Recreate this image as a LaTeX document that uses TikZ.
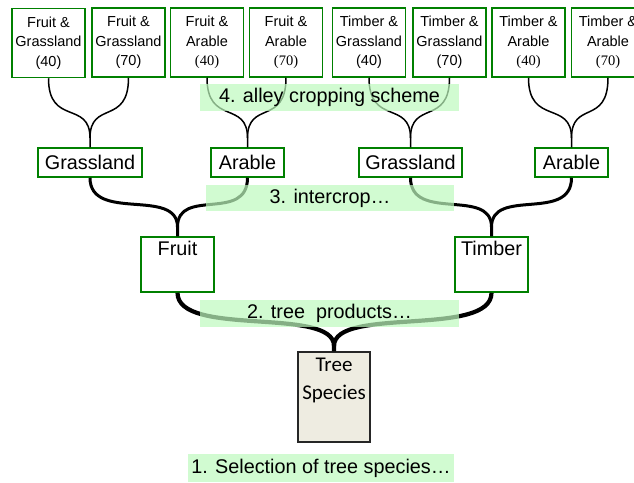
\documentclass[tikz,border=0pt]{standalone}
\usepackage{fontspec}
\setmainfont{Liberation Sans}
\newfontfamily\cfont{Carlito}
\newfontfamily\sfont{Liberation Serif}
\definecolor{boxgreen}{RGB}{0,128,0}
\definecolor{bandgreen}{RGB}{190,250,190}
\definecolor{treefill}{RGB}{238,236,225}

\begin{document}
\begin{tikzpicture}[x=1pt,y=-1pt,
	leaf/.style={draw=boxgreen,fill=white,line width=1.5pt,minimum width=73pt,minimum height=69pt,inner sep=0pt,align=center,font=\fontsize{14.5}{19.5}\selectfont},
	crop/.style={draw=boxgreen,fill=white,line width=1.5pt,minimum height=29pt,inner sep=0pt,font=\fontsize{19.8}{22}\selectfont},
	prod/.style={draw=boxgreen,fill=white,line width=1.5pt,minimum width=73pt,minimum height=55pt,inner sep=0pt},
	band/.style={fill=bandgreen,fill opacity=0.7,text opacity=1,inner sep=0pt,font=\fontsize{19.8}{22}\selectfont},
	twig/.style={line width=1.5pt},
	branch/.style={line width=3pt},
	trunk/.style={line width=4.2pt}]
\useasboundingbox (0,0) rectangle (634,482);
\node[leaf](fg40) at (48.5,43){Fruit \&\\Grassland\\(40)};
\node[leaf](fg70) at (128.5,42.5){Fruit \&\\Grassland\\(70)};
\node[leaf](fa40) at (207,42.5){Fruit \&\\Arable\\\sfont(40)};
\node[leaf](fa70) at (286,42.5){Fruit \&\\Arable\\\sfont(70)};
\node[leaf](tg40) at (369,42.5){Timber \&\\Grassland\\(40)};
\node[leaf](tg70) at (449.5,42.5){Timber \&\\Grassland\\(70)};
\node[leaf](ta40) at (528.5,42.5){Timber \&\\Arable\\\sfont(40)};
\node[leaf](ta70) at (608,42.5){Timber \&\\Arable\\\sfont(70)};
\node[crop,minimum width=104pt](fgrass) at (90,162.5){Grassland};
\node[crop,minimum width=73pt](farab) at (247.5,162.5){Arable};
\node[crop,minimum width=103pt](tgrass) at (410.5,162.5){Grassland};
\node[crop,minimum width=73pt](tarab) at (571.5,162.5){Arable};
\node[prod,label={[anchor=north,inner sep=5pt,font=\fontsize{19.8}{22}\selectfont]north:Fruit}](fruit) at (177.5,264.5){};
\node[prod,label={[anchor=north,inner sep=5pt,font=\fontsize{19.8}{22}\selectfont]north:Timber}](timber) at (491.5,264.5){};
\node[draw=black!85,fill=treefill,line width=1.5pt,minimum width=72pt,minimum height=90pt,inner sep=0pt,
	label={[anchor=north,inner sep=7pt,align=center,font=\cfont\fontsize{21}{28}\selectfont]north:{Tree\\Species}}](tree) at (334,397){};
\coordinate(j1) at (90,138);
\coordinate(j2) at (247.5,138);
\coordinate(j3) at (410.5,138);
\coordinate(j4) at (571.5,138);
\coordinate(jf) at (177.5,227);
\coordinate(jt) at (491.5,227);
\coordinate(jr) at (334,346);
\draw[twig](fg40.south) .. controls +(0,48) and +(0,-38) .. (j1) -- (fgrass.north);
\draw[twig](fg70.south) .. controls +(0,48) and +(0,-38) .. (j1);
\draw[twig](fa40.south) .. controls +(0,48) and +(0,-38) .. (j2) -- (farab.north);
\draw[twig](fa70.south) .. controls +(0,48) and +(0,-38) .. (j2);
\draw[twig](tg40.south) .. controls +(0,48) and +(0,-38) .. (j3) -- (tgrass.north);
\draw[twig](tg70.south) .. controls +(0,48) and +(0,-38) .. (j3);
\draw[twig](ta40.south) .. controls +(0,48) and +(0,-38) .. (j4) -- (tarab.north);
\draw[twig](ta70.south) .. controls +(0,48) and +(0,-38) .. (j4);
\draw[branch](fgrass.south) .. controls +(0,45) and +(0,-40) .. (jf) -- (fruit.north);
\draw[branch](farab.south) .. controls +(0,45) and +(0,-40) .. (jf);
\draw[branch](tgrass.south) .. controls +(0,45) and +(0,-40) .. (jt) -- (timber.north);
\draw[branch](tarab.south) .. controls +(0,45) and +(0,-40) .. (jt);
\draw[trunk](fruit.south) .. controls +(0,45) and +(0,-40) .. (jr) -- (tree.north);
\draw[trunk](timber.south) .. controls +(0,45) and +(0,-40) .. (jr);
\node[band,minimum width=259pt,minimum height=27pt](alley) at (329.5,97.5){4. alley cropping scheme};
\node[band,minimum width=248pt,minimum height=26pt](inter) at (330,198){3. intercrop…};
\node[band,minimum width=259pt,minimum height=27pt](prods) at (329.5,313.5){2. tree\ \ products…};
\node[band,minimum width=266pt,minimum height=28pt](select) at (321,468){1. Selection of tree species…};
\end{tikzpicture}
\end{document}
